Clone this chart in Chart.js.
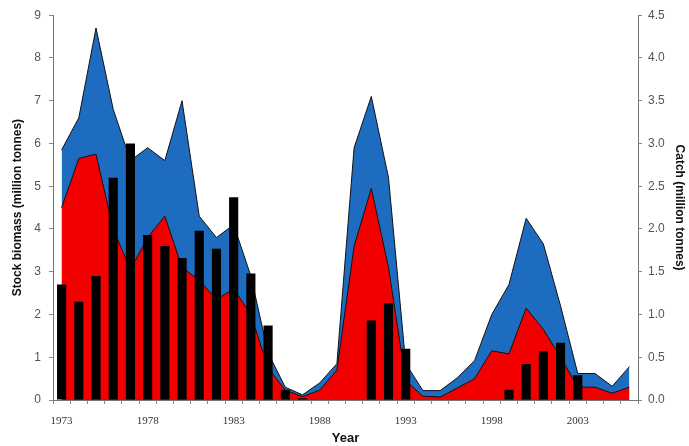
<!DOCTYPE html>
<html>
<head>
<meta charset="utf-8">
<script src="https://cdn.jsdelivr.net/npm/chart.js@4/dist/chart.umd.min.js"></script>
<style>
  html, body { margin: 0; padding: 0; background: #fff; }
  #wrap { width: 689px; height: 446px; }
</style>
</head>
<body>
<div id="wrap"><canvas id="stock-chart" width="689" height="446"></canvas></div>
<script>
var years = [];
for (var y = 1973; y <= 2006; y++) years.push(String(y));

// total stock biomass (million tonnes)
var totalBiomass = [5.85, 6.6, 8.7, 6.8, 5.6, 5.9, 5.6, 7.0, 4.3, 3.8,
    4.1, 2.9, 1.1, 0.3, 0.12, 0.4, 0.85, 5.9, 7.1, 5.2,
    0.85, 0.22, 0.22, 0.52, 0.92, 2.0, 2.7, 4.25, 3.65, 2.2,
    0.62, 0.62, 0.32, 0.78];

// spawning stock biomass (million tonnes)
var spawningBiomass = [4.5, 5.65, 5.75, 4.0, 3.05, 3.8, 4.3, 3.1, 2.8, 2.35,
    2.6, 2.0, 0.75, 0.23, 0.08, 0.23, 0.7, 3.6, 4.95, 3.1,
    0.45, 0.09, 0.07, 0.28, 0.5, 1.15, 1.08, 2.15, 1.65, 1.0,
    0.3, 0.3, 0.16, 0.3];

// catch (million tonnes)
var catches = [1.35, 1.15, 1.45, 2.6, 3.0, 1.93, 1.8, 1.66, 1.98, 1.77,
    2.37, 1.48, 0.87, 0.12, 0.02, 0, 0, 0, 0.93, 1.13,
    0.6, 0, 0, 0, 0, 0, 0.12, 0.42, 0.57, 0.67,
    0.29, 0, 0, 0];

var shownYears = ['1973', '1978', '1983', '1988', '1993', '1998', '2003'];

var ctx = document.getElementById('stock-chart').getContext('2d');

var stockChart = new Chart(ctx, {
    data: {
        labels: years,
        datasets: [{
            type: 'bar',
            label: 'Catch',
            data: catches,
            yAxisID: 'yCatch',
            backgroundColor: '#000',
            borderWidth: 0,
            barPercentage: 0.56,
            categoryPercentage: 0.95,
            order: 0
        }, {
            type: 'line',
            label: 'Spawning stock',
            data: spawningBiomass,
            yAxisID: 'yStock',
            backgroundColor: '#f20000',
            borderColor: '#111',
            borderWidth: 1,
            pointRadius: 0,
            tension: 0,
            fill: 'origin',
            order: 1
        }, {
            type: 'line',
            label: 'Total stock',
            data: totalBiomass,
            yAxisID: 'yStock',
            backgroundColor: '#1e6cbf',
            borderColor: '#111',
            borderWidth: 1,
            pointRadius: 0,
            tension: 0,
            fill: 'origin',
            order: 2
        }]
    },
    options: {
        responsive: false,
        animation: false,
        layout: { padding: { top: 6, bottom: 0, left: 0, right: 0 } },
        plugins: {
            legend: { display: false },
            tooltip: { enabled: false }
        },
        scales: {
            x: {
                offset: true,
                grid: { drawOnChartArea: false, drawTicks: true, tickLength: 4, color: '#888', offset: true },
                border: { display: true, color: '#777', width: 1 },
                ticks: {
                    autoSkip: false,
                    maxRotation: 0,
                    padding: 11,
                    color: '#333',
                    font: { family: '"Liberation Serif", "Times New Roman", serif', size: 11 },
                    callback: function(val, i) {
                        var lab = years[i];
                        return shownYears.indexOf(lab) >= 0 ? lab : '';
                    }
                },
                title: {
                    display: true,
                    text: 'Year',
                    color: '#111',
                    padding: { top: 0, bottom: 0 },
                    font: { family: '"Liberation Sans", Arial, sans-serif', size: 13, weight: 'bold' }
                },
                afterFit: function(scale) { scale.height = 46; }
            },
            yStock: {
                position: 'left',
                min: 0,
                max: 9,
                ticks: {
                    stepSize: 1,
                    padding: 8,
                    color: '#555',
                    font: { family: '"Liberation Sans", Arial, sans-serif', size: 12 }
                },
                grid: { drawOnChartArea: false, drawTicks: true, tickLength: 4, color: '#888' },
                border: { display: true, color: '#777', width: 1 },
                title: {
                    display: true,
                    text: 'Stock biomass (million tonnes)',
                    color: '#111',
                    padding: { top: 10, bottom: 0 },
                    font: { family: '"Liberation Sans", Arial, sans-serif', size: 12, weight: 'bold' }
                },
                afterFit: function(scale) { scale.width = 53; }
            },
            yCatch: {
                position: 'right',
                min: 0,
                max: 4.5,
                ticks: {
                    stepSize: 0.5,
                    padding: 6,
                    color: '#555',
                    font: { family: '"Liberation Sans", Arial, sans-serif', size: 12 },
                    callback: function(v) { return v.toFixed(1); }
                },
                grid: { drawOnChartArea: false, drawTicks: true, tickLength: 4, color: '#888' },
                border: { display: true, color: '#777', width: 1 },
                title: {
                    display: true,
                    text: 'Catch (million tonnes)',
                    color: '#111',
                    padding: { top: 2, bottom: 0 },
                    font: { family: '"Liberation Sans", Arial, sans-serif', size: 12, weight: 'bold' }
                },
                afterFit: function(scale) { scale.width = 51; }
            }
        }
    }
});
</script>
</body>
</html>
